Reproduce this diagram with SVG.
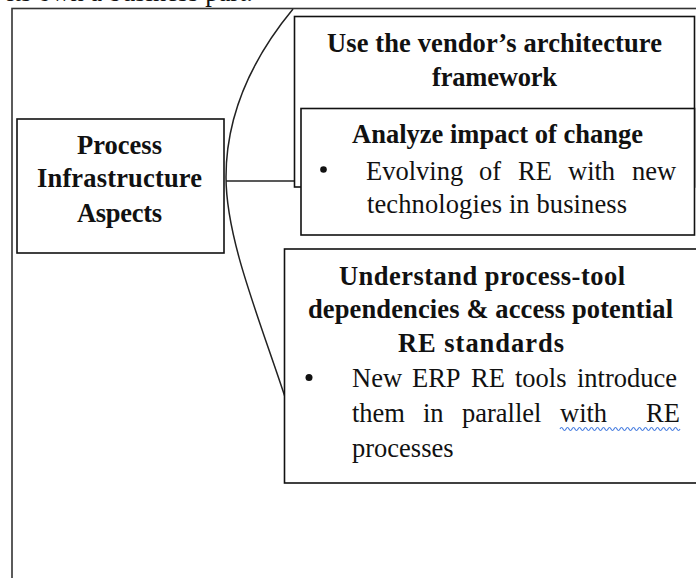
<svg xmlns="http://www.w3.org/2000/svg" width="696" height="578" viewBox="0 0 696 578">
<style>
.box{fill:#fff;stroke:#111;stroke-width:1.6}
.frame{fill:none;stroke:#333;stroke-width:1.6}
.conn{fill:none;stroke:#222;stroke-width:1.5}
.t{font-family:"Liberation Serif","Times New Roman",serif;font-size:26.5px;fill:#111}
.b{font-weight:bold}
.m{text-anchor:middle}
.bul{fill:#111}
.sq{fill:none;stroke:#4a7fe0;stroke-width:1.2}
</style>
<rect width="696" height="578" fill="#fff"/>
<text class="t" x="253" y="0.5" text-anchor="end">its own a business part.</text>
<rect class="frame" x="12" y="8.5" width="720" height="600"/>
<g id="connectors">
<path class="conn" d="M293,9 C255,55 226,110 226,177 C226,240 260,320 287,403"/>
<line class="conn" x1="226" y1="181" x2="294" y2="181"/>
</g>
<g id="vendor">
<rect class="box" x="294.5" y="16.5" width="400" height="170.5"/>
<text class="t b m" x="494.5" y="52" textLength="335">Use the vendor’s architecture</text>
<text class="t b m" x="494.5" y="86" textLength="125">framework</text>
</g>
<g id="impact">
<rect class="box" x="301" y="108.5" width="393.5" height="126.5"/>
<text class="t b m" x="497.5" y="143" textLength="291">Analyze impact of change</text>
<circle class="bul" cx="323.5" cy="169.5" r="3.3"/>
<text class="t" y="180"><tspan x="366">Evolving</tspan><tspan x="479">of</tspan><tspan x="518">RE</tspan><tspan x="568">with</tspan><tspan x="632">new</tspan></text>
<text class="t" x="367" y="213" textLength="260">technologies in business</text>
</g>
<g id="dependencies">
<rect class="box" x="284.5" y="249" width="420" height="234"/>
<text class="t b m" x="482" y="285" textLength="286">Understand process-tool</text>
<text class="t b m" x="490.5" y="318" textLength="365">dependencies &amp; access potential</text>
<text class="t b m" x="481" y="352" textLength="166">RE standards</text>
<circle class="bul" cx="309" cy="377.5" r="3.5"/>
<text class="t" y="387"><tspan x="352">New</tspan><tspan x="412">ERP</tspan><tspan x="471">RE</tspan><tspan x="515">tools</tspan><tspan x="577">introduce</tspan></text>
<text class="t" y="422"><tspan x="352">them</tspan><tspan x="423">in</tspan><tspan x="462">parallel</tspan><tspan x="560">with</tspan><tspan x="646">RE</tspan></text>
<text class="t" x="352" y="457">processes</text>
<path class="sq" d="M560,429 q1.5,-3 3,0 t3,0 t3,0 t3,0 t3,0 t3,0 t3,0 t3,0 t3,0 t3,0 t3,0 t3,0 t3,0 t3,0 t3,0 t3,0 t3,0 t3,0 t3,0 t3,0 t3,0 t3,0 t3,0 t3,0 t3,0 t3,0 t3,0 t3,0 t3,0 t3,0 t3,0 t3,0 t3,0 t3,0 t3,0 t3,0 t3,0 t3,0 t3,0 t3,0"/>
</g>
<g id="process">
<rect class="box" x="17" y="119" width="207" height="134"/>
<text class="t b m" x="119.5" y="154" textLength="85">Process</text>
<text class="t b m" x="119.5" y="187" textLength="165">Infrastructure</text>
<text class="t b m" x="119.5" y="222" textLength="85">Aspects</text>
</g>
</svg>
